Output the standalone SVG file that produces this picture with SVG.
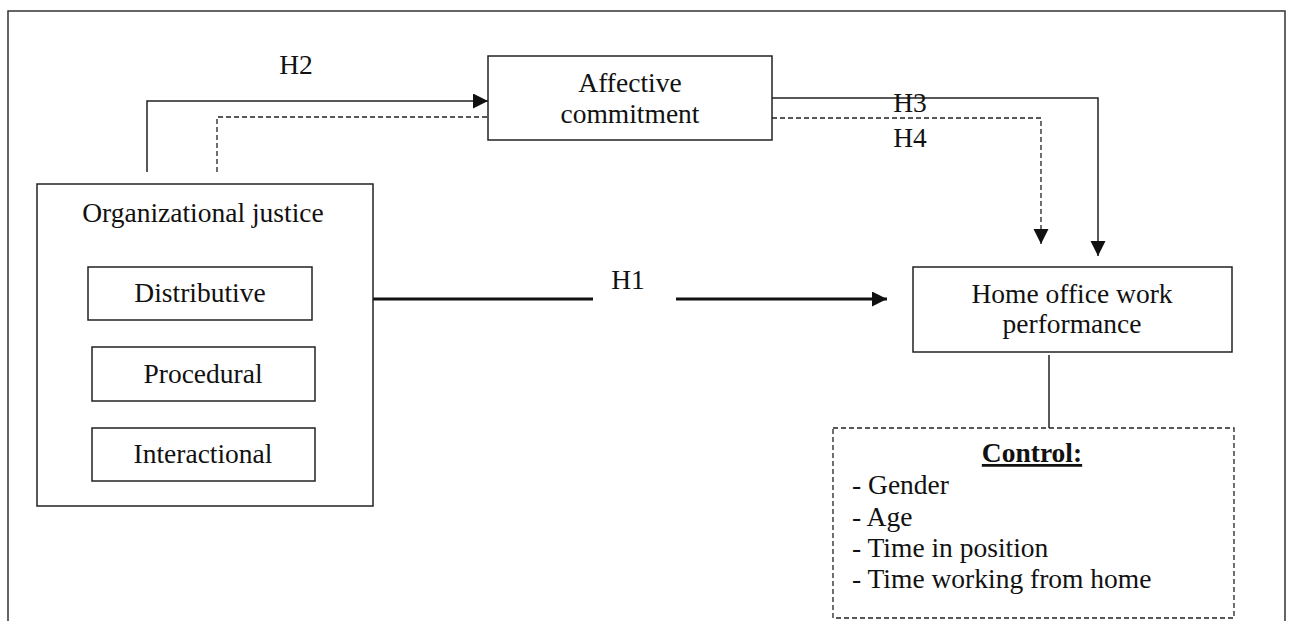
<svg xmlns="http://www.w3.org/2000/svg" width="1289" height="621" viewBox="0 0 1289 621">
<style>
text{font-family:"Liberation Serif","Times New Roman",serif;font-size:27.5px;fill:#111}
.box{fill:#fff;stroke:#222;stroke-width:1.5}
.dbox{fill:#fff;stroke:#222;stroke-width:1.3;stroke-dasharray:5 3}
.ln{fill:none;stroke:#222;stroke-width:1.5}
.dl{fill:none;stroke:#222;stroke-width:1.3;stroke-dasharray:5 3}
.thick{fill:none;stroke:#111;stroke-width:3}
.c{text-anchor:middle}
</style>
<defs>
<marker id="ah" markerUnits="userSpaceOnUse" markerWidth="16" markerHeight="16" refX="15" refY="7.5" orient="auto">
<path d="M0,0 L15,7.5 L0,15 Z" fill="#111"/>
</marker>
</defs>
<path d="M8,640 V11 H1285 V640" fill="none" stroke="#333" stroke-width="1.5"/>
<g id="connectors">
<path class="ln" d="M147,172 V101 H488" marker-end="url(#ah)"/>
<path class="dl" d="M217,172 V117 H488"/>
<path class="ln" d="M772,98 H1098 V256" marker-end="url(#ah)"/>
<path class="dl" d="M772,118 H1041 V244" marker-end="url(#ah)"/>
<path class="thick" d="M373,299 H593"/>
<path class="thick" d="M676,299 H887" marker-end="url(#ah)"/>
<path class="ln" d="M1049,355 V428" stroke-width="1.3"/>
<text x="296" y="74" class="c">H2</text>
<text x="910" y="112" class="c">H3</text>
<text x="910" y="147" class="c">H4</text>
<text x="628" y="289" class="c">H1</text>
</g>
<g id="affective">
<rect class="box" x="488" y="56" width="284" height="84"/>
<text x="630" y="92" class="c">Affective</text>
<text x="630" y="123" class="c">commitment</text>
</g>
<g id="orgjustice">
<rect class="box" x="37" y="184" width="336" height="322"/>
<text x="203" y="222" class="c">Organizational justice</text>
</g>
<g id="distributive">
<rect class="box" x="88" y="267" width="224" height="53"/>
<text x="200" y="302" class="c">Distributive</text>
</g>
<g id="procedural">
<rect class="box" x="92" y="347" width="223" height="54"/>
<text x="203" y="383" class="c">Procedural</text>
</g>
<g id="interactional">
<rect class="box" x="92" y="428" width="223" height="53"/>
<text x="203" y="463" class="c">Interactional</text>
</g>
<g id="performance">
<rect class="box" x="913" y="267" width="319" height="85"/>
<text x="1072" y="303" class="c">Home office work</text>
<text x="1072" y="333" class="c">performance</text>
</g>
<g id="control">
<rect class="dbox" x="833" y="428" width="401" height="190"/>
<text x="1032" y="462" class="c" font-weight="bold" text-decoration="underline">Control:</text>
<text x="852" y="494">- Gender</text>
<text x="852" y="526">- Age</text>
<text x="852" y="557">- Time in position</text>
<text x="852" y="588">- Time working from home</text>
</g>
</svg>
